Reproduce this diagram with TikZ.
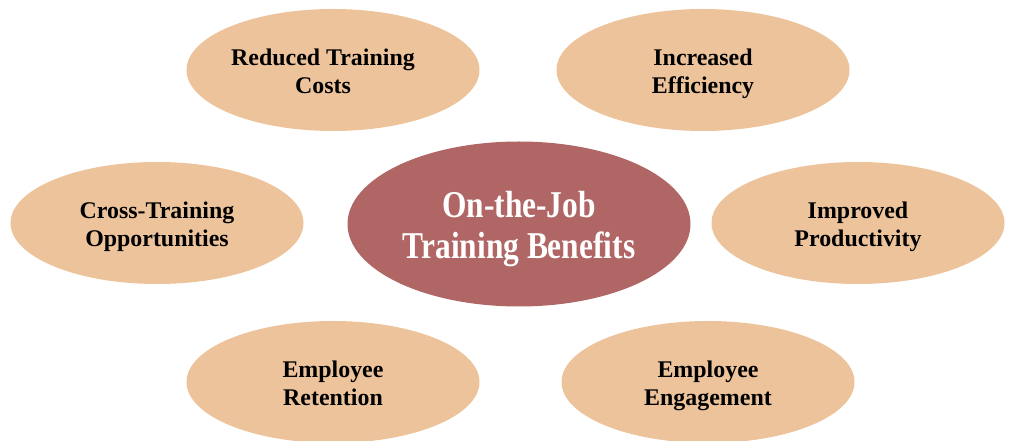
\documentclass[tikz,border=0pt]{standalone}
\usepackage{fontspec}
\setmainfont{Liberation Serif}
\newfontfamily\hubfont[FakeStretch=0.83]{Liberation Serif}
\usetikzlibrary{shapes.geometric}
\definecolor{peach}{RGB}{237,195,155}
\definecolor{rosewood}{RGB}{176,102,101}
\begin{document}
\begin{tikzpicture}[x=1bp,y=-1bp,
    benefit/.style={ellipse,fill=peach,inner sep=0pt,minimum width=293bp,minimum height=122bp,
      align=center,font=\fontsize{24}{28}\selectfont\bfseries,text height=49bp,text depth=2bp},
    hub/.style={ellipse,fill=rosewood,inner sep=0pt,minimum width=343bp,minimum height=165bp,
      align=center,text=white,font=\hubfont\fontsize{38}{42}\selectfont\bfseries,
      text height=72bp,text depth=2bp}]
    \useasboundingbox (0,0) rectangle (1011,441);
    % centre
    \node[hub] (hub) at (519,224) {On-the-Job\\Training Benefits};
    % benefits around it
    \foreach \n/\x/\y/\t in {costs/333/70/{Reduced Training\hspace*{20bp}\\Costs\hspace*{20bp}},
                              efficiency/703/70/{Increased\\Efficiency},
                              cross/157/223/{Cross-Training\\Opportunities},
                              productivity/858/223/{Improved\\Productivity},
                              retention/333/382/{Employee\\Retention},
                              engagement/708/382/{Employee\\Engagement}}
        \node[benefit] (\n) at (\x,\y) {\t};
\end{tikzpicture}
\end{document}
